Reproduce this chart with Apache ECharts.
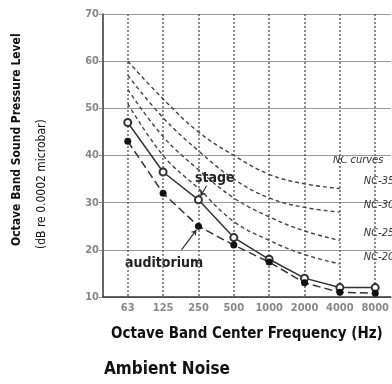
<!DOCTYPE html>
<html>
<head>
<meta charset="utf-8">
<script src="https://cdn.jsdelivr.net/npm/echarts@6/dist/echarts.min.js"></script>
<style>
html, body { margin: 0; padding: 0; background: #fff; }
#chart { width: 392px; height: 384px; }
</style>
</head>
<body>
<div id="chart"></div>
<script>
// octave band centres (Hz)
const freqs = ['63', '125', '250', '500', '1000', '2000', '4000', '8000']
const stage = [47, 36.5, 30.6, 22.6, 18, 14, 12, 12]
const auditorium = [43, 32, 25, 21, 17.4, 13, 11, 10.8]
// NC curves, 63 .. 4000 Hz
const nc35 = [60, 52, 45, 40, 36, 34, 33]
const nc30 = [57, 48, 41, 35, 31, 29, 28]
const nc25 = [54, 44, 37, 31, 27, 24, 22]
const nc20 = [51, 40, 33, 26, 22, 19, 17]
const ncNames = ['NC-35', 'NC-30', 'NC-25', 'NC-20']

const FONT = "'DejaVu Sans Condensed', 'Liberation Sans Narrow', sans-serif"
const pts = arr => arr.map((v, i) => [i, v])
const idx = freqs.map((f, i) => i)

const ncSeries = [nc35, nc30, nc25, nc20].map((arr, k) => ({
  type: 'line',
  smooth: 0.4,
  symbol: 'none',
  data: pts(arr),
  lineStyle: { color: '#444', width: 1.4, type: [4, 3] },
  endLabel: {
    show: true,
    formatter: ncNames[k],
    offset: [16, -7],
    color: '#333',
    fontFamily: FONT,
    fontSize: 11,
    fontStyle: 'italic'
  },
  z: 2
}))

const myChart = echarts.init(document.getElementById('chart'))
myChart.setOption({
  animation: false,
  grid: { left: 103, top: 14, right: 0, bottom: 87, containLabel: false },
  xAxis: {
    type: 'value',
    min: -0.7,
    max: 7.44,
    axisLine: { onZero: false, lineStyle: { color: '#333', width: 1.5 } },
    axisTick: { show: false, customValues: idx },
    axisLabel: {
      customValues: idx,
      formatter: v => freqs[Math.round(v)],
      color: '#888',
      fontFamily: FONT,
      fontWeight: 'bold',
      fontSize: 11,
      margin: 6
    },
    splitLine: { show: true, lineStyle: { color: '#666', type: [2, 2], width: 1.5 } },
    name: 'Octave Band Center Frequency (Hz)',
    nameLocation: 'middle',
    nameGap: 30,
    nameTextStyle: { color: '#111', fontFamily: FONT, fontWeight: 'bold', fontSize: 15 }
  },
  yAxis: {
    type: 'value',
    min: 10,
    max: 70,
    interval: 10,
    axisLine: { show: true, onZero: false, lineStyle: { color: '#333', width: 1.5 } },
    axisTick: { show: true, length: 4, lineStyle: { color: '#888' } },
    axisLabel: { color: '#888', fontFamily: FONT, fontWeight: 'bold', fontSize: 11, margin: 4 },
    splitLine: { lineStyle: { color: '#999', width: 1 } }
  },
  graphic: [
    {
      type: 'text', x: 17, y: 246, rotation: Math.PI / 2,
      style: { text: 'Octave Band Sound Pressure Level', fill: '#111', font: 'bold 12px ' + FONT, align: 'left', verticalAlign: 'middle' }
    },
    {
      type: 'text', x: 42, y: 249, rotation: Math.PI / 2,
      style: { text: '(dB re 0.0002 microbar)', fill: '#111', font: '12px ' + FONT, align: 'left', verticalAlign: 'middle' }
    },
    {
      type: 'text', x: 104, y: 370,
      style: { text: 'Ambient Noise', fill: '#111', font: 'bold 17px ' + FONT, align: 'left', verticalAlign: 'middle' }
    },
    {
      type: 'text', x: 195, y: 178,
      style: { text: 'stage', fill: '#222', font: 'bold 14px ' + FONT, align: 'left', verticalAlign: 'middle' }
    },
    {
      type: 'text', x: 125, y: 263,
      style: { text: 'auditorium', fill: '#222', font: 'bold 14px ' + FONT, align: 'left', verticalAlign: 'middle' }
    },
    {
      type: 'text', x: 333, y: 160,
      style: { text: 'NC curves', fill: '#333', font: 'italic 11px ' + FONT, align: 'left', verticalAlign: 'middle' }
    }
  ],
  series: [
    ...ncSeries,
    {
      name: 'stage',
      type: 'line',
      data: pts(stage),
      symbol: 'emptyCircle',
      symbolSize: 7,
      itemStyle: { color: '#333', borderWidth: 1.3 },
      lineStyle: { color: '#333', width: 1.5 },
      markLine: {
        silent: true,
        symbol: ['none', 'arrow'],
        symbolSize: 5,
        label: { show: false },
        lineStyle: { color: '#333', width: 1.2, type: 'solid' },
        data: [[{ coord: [2.23, 33.6] }, { coord: [2.06, 31.4] }]]
      },
      z: 4
    },
    {
      name: 'auditorium',
      type: 'line',
      data: pts(auditorium),
      symbol: 'circle',
      symbolSize: 7,
      itemStyle: { color: '#111' },
      lineStyle: { color: '#333', width: 1.5, type: [8, 4] },
      markLine: {
        silent: true,
        symbol: ['none', 'arrow'],
        symbolSize: 5,
        label: { show: false },
        lineStyle: { color: '#333', width: 1.2, type: 'solid' },
        data: [[{ coord: [1.52, 20] }, { coord: [1.94, 24.2] }]]
      },
      z: 4
    }
  ]
})
</script>
</body>
</html>
